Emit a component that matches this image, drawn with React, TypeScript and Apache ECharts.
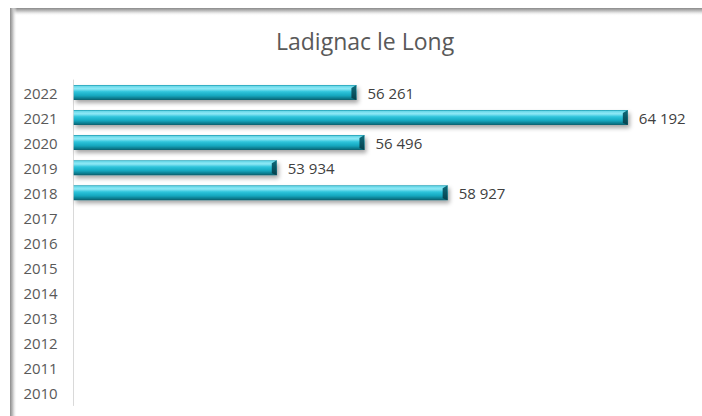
import React, { useEffect, useRef } from "react";
import * as echarts from "echarts";

const categories = ["2010", "2011", "2012", "2013", "2014", "2015", "2016", "2017", "2018", "2019", "2020", "2021", "2022"];
const values: (number | null)[] = [null, null, null, null, null, null, null, null, 58927, 53934, 56496, 64192, 56261];
const chartTitle = "Ladignac le Long";

const fmt = (v: number) => String(v).replace(/\B(?=(\d{3})+(?!\d))/g, " ");

export default function App() {
  const ref = useRef<HTMLDivElement>(null);
  useEffect(() => {
    if (!ref.current) return;
    const chart = echarts.init(ref.current, undefined, { renderer: "svg" });
    const barGrad = new echarts.graphic.LinearGradient(0, 0, 0, 1, [
      { offset: 0, color: "#1a9bb0" },
      { offset: 0.1, color: "#6fdcec" },
      { offset: 0.25, color: "#8fe9f6" },
      { offset: 0.45, color: "#2ec4db" },
      { offset: 0.7, color: "#16a8bf" },
      { offset: 0.88, color: "#0d7e91" },
      { offset: 1, color: "#0a5e6c" },
    ]);
    const capGrad = new echarts.graphic.LinearGradient(0, 0, 0, 1, [
      { offset: 0, color: "#0e6d7c" },
      { offset: 0.5, color: "#0a5563" },
      { offset: 1, color: "#06414c" },
    ]);
    const capData = values.map((v, i) => [v, i]).filter((d) => d[0] != null);
    chart.setOption({
      animation: false,
      backgroundColor: "#ffffff",
      title: {
        text: chartTitle,
        left: 271,
        top: 24,
        textStyle: { fontFamily: "Open Sans", fontSize: 23, fontWeight: "normal", color: "#595959" },
      },
      graphic: [
        {
          type: "rect",
          shape: { x: 10, y: 8, width: 692, height: 8 },
          style: {
            fill: new echarts.graphic.LinearGradient(0, 0, 0, 1, [
              { offset: 0, color: "#8a8a8a" },
              { offset: 0.4, color: "#c4c4c4" },
              { offset: 1, color: "rgba(255,255,255,0)" },
            ]),
          },
          z: 100,
        },
        {
          type: "rect",
          shape: { x: 10, y: 8, width: 7, height: 408 },
          style: {
            fill: new echarts.graphic.LinearGradient(0, 0, 1, 0, [
              { offset: 0, color: "#8a8a8a" },
              { offset: 0.4, color: "#c4c4c4" },
              { offset: 1, color: "rgba(255,255,255,0)" },
            ]),
          },
          z: 100,
        },
      ],
      grid: { left: 73.7, right: 12.3, top: 80, bottom: 10.5, containLabel: false },
      xAxis: {
        type: "value",
        min: 48000,
        max: 66000,
        show: false,
        splitLine: { show: false },
      },
      yAxis: {
        type: "category",
        data: categories,
        axisLine: { show: true, lineStyle: { color: "#d9d9d9", width: 1 } },
        axisTick: { show: false },
        axisLabel: { fontFamily: "Open Sans", fontSize: 15, color: "#595959", margin: 16 },
        splitLine: { show: false },
      },
      series: [
        {
          type: "bar",
          data: values,
          barWidth: 15,
          itemStyle: {
            color: barGrad,
            shadowColor: "rgba(0,0,0,0.35)",
            shadowBlur: 4,
            shadowOffsetX: 2,
            shadowOffsetY: 3,
          },
          label: {
            show: true,
            position: "right",
            distance: 11,
            fontFamily: "Open Sans",
            fontSize: 15,
            color: "#404040",
            formatter: (p: any) => fmt(p.value),
          },
        },
        {
          type: "custom",
          data: capData,
          encode: { x: 0, y: 1 },
          z: 5,
          silent: true,
          renderItem: (params: any, api: any) => {
            const v = api.value(0);
            const c = api.value(1);
            const pt = api.coord([v, c]);
            const h = 15;
            const top = pt[1] - h / 2;
            const bot = pt[1] + h / 2;
            return {
              type: "polygon",
              shape: {
                points: [
                  [pt[0] - 5, top + 3],
                  [pt[0], top],
                  [pt[0], bot],
                  [pt[0] - 5, bot - 2],
                ],
              },
              style: { fill: capGrad },
            };
          },
        },
      ],
    });
    return () => chart.dispose();
  }, []);
  return <div ref={ref} style={{ position: "fixed", left: 0, top: 0, width: 702, height: 416 }} />;
}
